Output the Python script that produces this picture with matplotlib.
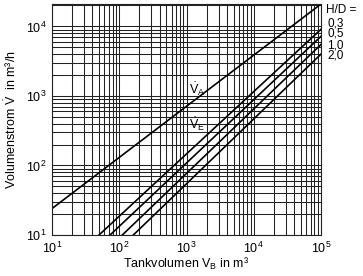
import numpy as np
import matplotlib
matplotlib.use('Agg')
import matplotlib.pyplot as plt

# ----------------------------------------------------------
# Daten
# ----------------------------------------------------------
# Ausatemstrom V_A: Gerade im log-log Diagramm
va_x = [10, 1e5]
va_y = [24, 2.1e4]

# Einatemstrom V_E fuer verschiedene H/D
hd_labels = ['0,3', '0,5', '1,0', '2,0']
ve_x_start = [50, 73, 111, 162]
ve_y_start = [10, 10, 10, 10]
ve_x_end = [1e5, 1e5, 1e5, 1e5]
ve_y_end = [9.1e3, 7.2e3, 5.5e3, 4.0e3]

x_ticks = [1e1, 1e2, 1e3, 1e4, 1e5]
y_ticks = [1e1, 1e2, 1e3, 1e4]

plt.rcParams['font.family'] = ['Liberation Sans', 'DejaVu Sans']
plt.rcParams['mathtext.default'] = 'regular'

W, H = 363, 276
fig = plt.figure(figsize=(W / 100, H / 100), dpi=100)
ax = fig.add_axes([52 / W, 1 - 235 / H, (321 - 52) / W, (235 - 4) / H])

ax.set_xscale('log')
ax.set_yscale('log')
ax.set_xlim(10, 1e5)
ax.set_ylim(10, 2.1e4)

ax.grid(True, which='both', color='#222222', linewidth=0.75)
ax.set_axisbelow(True)

ax.plot(va_x, va_y, color='black', linewidth=1.2)
for xs, ys, xe, ye in zip(ve_x_start, ve_y_start, ve_x_end, ve_y_end):
    ax.plot([xs, xe], [ys, ye], color='black', linewidth=1.2)

ax.set_xticks(x_ticks)
ax.set_yticks(y_ticks)
ax.tick_params(which='both', length=0, labelsize=9, pad=4)
for s in ax.spines.values():
    s.set_color('#222222')
    s.set_linewidth(0.8)

fig.text(186 / W, 1 - 264 / H, 'Tankvolumen $V_B$ in m³', fontsize=9,
         ha='center', va='center')
fig.text(11 / W, 1 - 120 / H, r'Volumenstrom $\dot{V}$  in m³/h', fontsize=9,
         ha='center', va='center', rotation=90)

# Kurvenbeschriftung
fig.text(189 / W, 1 - 89 / H, r'$\dot{V}_A$', fontsize=9, ha='left', va='center')
fig.text(189 / W, 1 - 124 / H, r'$\dot{V}_E$', fontsize=9, ha='left', va='center')

fig.text(326 / W, 1 - 10 / H, 'H/D =', fontsize=8.5, ha='left', va='center')
for i, lab in enumerate(hd_labels):
    fig.text(327 / W, 1 - (23 + i * 11) / H, lab, fontsize=8.5, ha='left', va='center')

fig.savefig('out.png', dpi=100)
